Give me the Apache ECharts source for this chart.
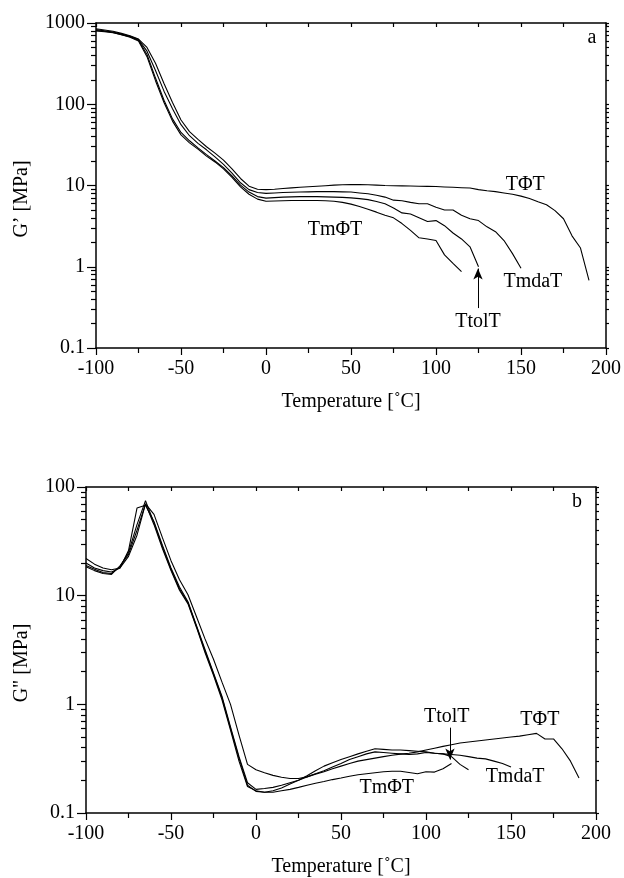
<!DOCTYPE html>
<html>
<head>
<meta charset="utf-8">
<title>G' / G'' vs temperature</title>
<script src="https://cdn.jsdelivr.net/npm/echarts@6/dist/echarts.min.js"></script>
<style>
  html, body { margin: 0; padding: 0; background: #fff; }
  #chart { width: 624px; height: 878px; }
</style>
</head>
<body>
<div id="chart"></div>
<script>
// temperatures [C], 5 degree steps
var temps = [
  -100, -95, -90, -85, -80, -75, -70, -65, -60, -55,
  -50, -45, -40, -35, -30, -25, -20, -15, -10, -5,
  0, 5, 10, 15, 20, 25, 30, 35, 40, 45,
  50, 55, 60, 65, 70, 75, 80, 85, 90, 95,
  100, 105, 110, 115, 120, 125, 130, 135, 140, 145,
  150, 155, 160, 165, 170, 175, 180, 185, 190
];

var seriesNames = ['TΦT', 'TmdaT', 'TtolT', 'TmΦT'];

// panel a : G' [MPa]
var storPhi = [
  850, 820, 790, 745, 695, 635, 500, 320, 180, 105,
  64, 46, 37, 30, 25, 20.5, 16, 12.2, 9.8, 9.0,
  8.9, 9.0, 9.2, 9.35, 9.5, 9.65, 9.8, 9.95, 10.1, 10.2,
  10.3, 10.25, 10.2, 10.1, 10.0, 9.95, 9.9, 9.85, 9.8, 9.75,
  9.7, 9.6, 9.5, 9.4, 9.3, 8.9, 8.6, 8.4, 8.1, 7.8,
  7.4, 6.9, 6.3, 5.8, 4.9, 3.9, 2.4, 1.7, 0.68
];
var storMda = [
  830, 800, 775, 730, 685, 625, 450, 260, 145, 88,
  56, 41, 33, 27.5, 22.5, 18.2, 14.2, 10.8, 8.9, 8.2,
  8.0, 8.1, 8.2, 8.25, 8.3, 8.35, 8.4, 8.4, 8.4, 8.35,
  8.3, 8.1, 7.9, 7.6, 7.2, 6.6, 6.5, 6.2, 5.95, 5.95,
  5.4, 5.0, 5.0, 4.3, 3.9, 3.7, 3.1, 2.7, 2.1, 1.45,
  0.96, null, null, null, null, null, null, null, null
];
var storTol = [
  810, 790, 765, 720, 678, 612, 410, 210, 112, 66,
  45, 35.5, 29, 24, 20, 16.6, 13.1, 10.1, 8.3, 7.3,
  7.0, 7.1, 7.2, 7.25, 7.3, 7.3, 7.3, 7.25, 7.2, 7.15,
  7.05, 6.9, 6.7, 6.35, 5.95, 5.3, 4.6, 4.45, 4.0, 3.6,
  3.7, 3.2, 2.6, 2.2, 1.76, 1.0, null, null, null, null,
  null, null, null, null, null, null, null, null, null
];
var storMPhi = [
  800, 780, 760, 715, 670, 600, 385, 195, 105, 62,
  42, 33.5, 28, 23, 19.5, 16, 12.6, 9.6, 7.8, 6.8,
  6.4, 6.45, 6.5, 6.55, 6.55, 6.55, 6.55, 6.5, 6.4, 6.2,
  5.9, 5.5, 5.1, 4.7, 4.3, 4.0, 3.4, 2.8, 2.27, 2.2,
  2.1, 1.4, 1.1, 0.87, null, null, null, null, null, null,
  null, null, null, null, null, null, null, null, null
];

// panel b : G'' [MPa]
var lossPhi = [
  22, 19.5, 18, 17.3, 18, 23, 36, 70, 56, 34,
  21, 14, 10.2, 6.4, 4.0, 2.6, 1.6, 1.0, 0.52, 0.28,
  0.25, 0.235, 0.222, 0.213, 0.208, 0.208, 0.215, 0.228, 0.24, 0.255,
  0.27, 0.285, 0.3, 0.31, 0.32, 0.33, 0.34, 0.348, 0.355, 0.365,
  0.38, 0.395, 0.41, 0.425, 0.44, 0.45, 0.46, 0.47, 0.48, 0.49,
  0.5, 0.51, 0.525, 0.54, 0.48, 0.48, 0.39, 0.3, 0.21
];
var lossMda = [
  20, 18, 17, 16.5, 18, 26, 64, 68, 48, 29,
  18, 12, 8.8, 5.3, 3.2, 1.95, 1.18, 0.62, 0.33, 0.19,
  0.165, 0.168, 0.172, 0.18, 0.19, 0.2, 0.215, 0.23, 0.245, 0.265,
  0.285, 0.31, 0.33, 0.35, 0.365, 0.36, 0.355, 0.35, 0.345, 0.35,
  0.36, 0.355, 0.35, 0.345, 0.34, 0.33, 0.32, 0.315, 0.3, 0.285,
  0.265, null, null, null, null, null, null, null, null
];
var lossTol = [
  19, 17.5, 16.3, 16, 18.5, 25, 45, 75, 47, 28,
  17.5, 11.5, 8.6, 5.2, 3.1, 1.9, 1.15, 0.6, 0.32, 0.18,
  0.158, 0.155, 0.16, 0.17, 0.185, 0.2, 0.22, 0.245, 0.27, 0.29,
  0.31, 0.33, 0.35, 0.37, 0.39, 0.385, 0.38, 0.38, 0.375, 0.37,
  0.365, 0.355, 0.35, 0.33, 0.28, 0.25, null, null, null, null,
  null, null, null, null, null, null, null, null, null
];
var lossMPhi = [
  18.5, 17, 16, 15.7, 18.8, 24, 40, 70, 45, 27,
  17, 11.2, 8.4, 5.1, 3.0, 1.85, 1.1, 0.58, 0.3, 0.175,
  0.16, 0.155, 0.155, 0.16, 0.165, 0.172, 0.18, 0.188, 0.195, 0.203,
  0.21, 0.218, 0.225, 0.23, 0.235, 0.24, 0.242, 0.242, 0.236, 0.23,
  0.24, 0.238, 0.255, 0.285, null, null, null, null, null, null,
  null, null, null, null, null, null, null, null, null
];

// curve labels [name, temperature, value]
var labelsA = [['TΦT', 152.5, 10.2], ['TmΦT', 40.6, 2.85], ['TmdaT', 157, 0.65], ['TtolT', 124.7, 0.21]];
var labelsB = [['TΦT', 167, 0.72], ['TtolT', 112.2, 0.77], ['TmdaT', 152.4, 0.216], ['TmΦT', 76.9, 0.169]];
// arrows [temperature, from value, to value]
var arrowA = [124.7, 0.31, 0.95];
var arrowB = [114.1, 0.61, 0.31];

var FONT = '"Liberation Serif", "DejaVu Serif", serif';
var BLACK = '#000';

function pairs(vals) {
  var out = [];
  for (var i = 0; i < temps.length; i++) {
    if (vals[i] != null) out.push([temps[i], vals[i]]);
  }
  return out;
}

// tick positions in decade (exponent) units
function decadeTicks(lo, hi, withMajor) {
  var out = [];
  for (var d = lo; d < hi; d++) {
    for (var k = withMajor ? 1 : 2; k <= 9; k++) out.push(d + Math.log10(k));
  }
  if (withMajor) out.push(hi);
  return out;
}

function fmtLog(v) {
  return String(+Number(v).toPrecision(3));
}

var chart = echarts.init(document.getElementById('chart'));

function bottomX(grid) {
  return {
    gridIndex: grid, type: 'value', min: -100, max: 200, interval: 50, position: 'bottom',
    axisLine: { onZero: false, lineStyle: { color: BLACK, width: 1.5 } },
    axisTick: { inside: false, length: 7, lineStyle: { color: BLACK, width: 1.2 } },
    minorTick: { show: true, splitNumber: 2, length: 5, lineStyle: { color: BLACK, width: 1.2 } },
    axisLabel: { margin: 11, fontSize: 20, color: BLACK, fontFamily: FONT },
    splitLine: { show: false },
    name: 'Temperature [˚C]', nameLocation: 'middle', nameGap: 44,
    nameTextStyle: { fontSize: 20, color: BLACK, fontFamily: FONT }
  };
}
function topX(grid) {
  return {
    gridIndex: grid, type: 'value', min: -100, max: 200, interval: 25, position: 'top',
    axisLine: { onZero: false, lineStyle: { color: BLACK, width: 1.5 } },
    axisTick: { inside: true, length: 4, lineStyle: { color: BLACK, width: 1.2 } },
    axisLabel: { show: false }, splitLine: { show: false }
  };
}
function leftLog(grid, mn, mx) {
  return {
    gridIndex: grid, type: 'log', logBase: 10, min: mn, max: mx, position: 'left',
    axisLine: { onZero: false, lineStyle: { color: BLACK, width: 1.5 } },
    axisTick: { inside: false, length: 9, lineStyle: { color: BLACK, width: 1.2 } },
    axisLabel: { margin: 11, fontSize: 20, color: BLACK, fontFamily: FONT, formatter: fmtLog },
    splitLine: { show: false }
  };
}
function leftMinor(grid, lo, hi) {
  return {
    gridIndex: grid, type: 'value', min: lo, max: hi, position: 'left',
    axisLine: { show: false, onZero: false },
    axisTick: { show: true, inside: false, length: 5, customValues: decadeTicks(lo, hi, false),
      lineStyle: { color: BLACK, width: 1.2 } },
    axisLabel: { show: false }, splitLine: { show: false }
  };
}
function rightTicks(grid, lo, hi) {
  return {
    gridIndex: grid, type: 'value', min: lo, max: hi, position: 'right',
    axisLine: { show: true, onZero: false, lineStyle: { color: BLACK, width: 1.5 } },
    axisTick: { show: true, inside: false, length: 3, customValues: decadeTicks(lo, hi, true),
      lineStyle: { color: BLACK, width: 1.2 } },
    axisLabel: { show: false }, splitLine: { show: false }
  };
}

function curve(name, vals, xi, yi) {
  return {
    name: name, type: 'line', xAxisIndex: xi, yAxisIndex: yi,
    data: pairs(vals), showSymbol: false, symbol: 'none', silent: true,
    lineStyle: { color: BLACK, width: 1.1 }
  };
}

function annotate(s, labels, arrow) {
  s.markPoint = {
    symbol: 'rect', symbolSize: 1, silent: true,
    itemStyle: { color: 'rgba(0,0,0,0)' },
    label: { show: true, position: 'inside', formatter: '{b}', fontSize: 20, color: BLACK, fontFamily: FONT },
    data: labels.map(function (l) { return { name: l[0], coord: [l[1], l[2]] }; })
  };
  s.markLine = {
    silent: true, symbol: ['none', 'arrow'], symbolSize: [7, 11],
    lineStyle: { color: BLACK, width: 1, type: 'solid' },
    label: { show: false },
    data: [[{ coord: [arrow[0], arrow[1]] }, { coord: [arrow[0], arrow[2]] }]]
  };
  return s;
}

var storage = [storPhi, storMda, storTol, storMPhi];
var loss = [lossPhi, lossMda, lossTol, lossMPhi];
var series = [];
seriesNames.forEach(function (n, i) {
  var a = curve(n, storage[i], 0, 0);
  if (i === 0) annotate(a, labelsA, arrowA);
  series.push(a);
});
seriesNames.forEach(function (n, i) {
  var b = curve(n, loss[i], 2, 3);
  if (i === 0) annotate(b, labelsB, arrowB);
  series.push(b);
});

var option = {
  animation: false,
  backgroundColor: '#fff',
  grid: [
    { left: 96, top: 23, width: 510, height: 325 },
    { left: 86, top: 487, width: 510, height: 326 }
  ],
  xAxis: [bottomX(0), topX(0), bottomX(1), topX(1)],
  yAxis: [
    leftLog(0, 0.1, 1000), leftMinor(0, -1, 3), rightTicks(0, -1, 3),
    leftLog(1, 0.1, 100), leftMinor(1, -1, 2), rightTicks(1, -1, 2)
  ],
  graphic: [
    { type: 'text', x: 22, y: 199, rotation: Math.PI / 2,
      style: { text: 'G’ [MPa]', font: '20px ' + FONT, fill: BLACK, align: 'center', verticalAlign: 'middle' } },
    { type: 'text', x: 22, y: 663, rotation: Math.PI / 2,
      style: { text: 'G" [MPa]', font: '20px ' + FONT, fill: BLACK, align: 'center', verticalAlign: 'middle' } },
    { type: 'text', x: 592, y: 38,
      style: { text: 'a', font: '20px ' + FONT, fill: BLACK, align: 'center', verticalAlign: 'middle' } },
    { type: 'text', x: 577, y: 502,
      style: { text: 'b', font: '20px ' + FONT, fill: BLACK, align: 'center', verticalAlign: 'middle' } }
  ],
  series: series
};

chart.setOption(option);
window.addEventListener('resize', function () {
  chart.resize();
});
</script>
</body>
</html>
